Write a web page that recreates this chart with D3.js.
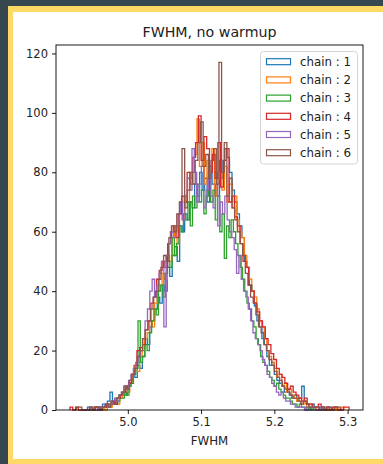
<!DOCTYPE html>
<html>
<head>
<meta charset="utf-8">
<script src="https://cdn.jsdelivr.net/npm/d3@7"></script>
<style>
  html, body { margin: 0; padding: 0; background: #37474f; }
  svg { display: block; }
  text { font-family: "DejaVu Sans", sans-serif; fill: #222; }
</style>
</head>
<body>
<svg id="chart" width="383" height="464"></svg>
<script>
// ---- data ----
const title = "FWHM, no warmup";
const xLabel = "FWHM";
const chainNames = ["chain : 1", "chain : 2", "chain : 3", "chain : 4", "chain : 5", "chain : 6"];
const chainColors = ["#1f77b4", "#ff7f0e", "#2ca02c", "#d62728", "#9467bd", "#8c564b"];
const xTicks = [5.0, 5.1, 5.2, 5.3];
const yTicks = [0, 20, 40, 60, 80, 100, 120];
// bin range (min, max FWHM) of each chain; 100 equal bins each
const chainLo = [4.945, 4.955, 4.955, 4.921, 4.950, 4.930];
const chainHi = [5.285, 5.295, 5.265, 5.302, 5.270, 5.290];

const counts1 = [1,0,0,1,1,0,2,1,3,6, 3,2,4,5,6,5,8,9,12,11, 15,14,18,24,22,28,30,34,38,36,
  42,40,48,45,52,55,50,62,60,66, 64,70,68,76,72,80,74,78,70,82, 76,80,72,84,78,88,85,80,74,70,
  66,62,58,50,48,42,40,35,30,28, 24,22,18,15,16,12,10,9,8,6, 7,5,4,5,3,4,8,3,2,1, 2,1,1,0,1,0,0,1,0,1];
const counts2 = [1,0,1,1,0,2,1,2,3,2, 4,5,7,6,9,12,14,13,18,20, 24,26,30,28,36,40,42,46,44,52,
  50,58,62,56,66,64,72,70,78,80, 86,98,82,90,76,84,80,88,72,78, 80,74,82,70,76,68,72,64,60,58,
  52,48,44,40,38,34,30,28,24,20, 18,16,14,11,12,8,9,6,7,5, 4,3,4,2,3,1,2,1,1,0, 1,1,0,1,0,0,1,0,0,1];
const counts3 = [1,1,0,1,1,2,1,2,3,2, 3,4,4,6,5,8,9,12,14,30, 16,18,22,20,26,30,34,32,40,42,
  38,46,50,48,58,52,56,62,60,66, 64,70,62,72,68,76,70,74,66,72, 78,70,74,64,72,60,66,51,62,58,
  64,60,56,52,48,44,40,36,34,30, 28,24,22,18,16,15,13,11,10,8, 9,7,6,5,4,4,3,2,2,1, 2,1,1,0,1,0,1,0,0,1];
const counts4 = [1,0,1,0,0,0,0,1,0,1, 0,1,1,2,2,3,2,4,5,6, 8,9,12,15,20,21,22,27,30,36,
  38,44,47,50,48,56,60,62,58,66, 72,70,80,76,85,90,99,84,92,88, 80,86,78,90,75,84,88,70,72,65,
  62,56,50,48,42,40,36,33,30,28, 24,22,19,17,14,12,11,9,7,8, 6,5,4,3,4,2,2,1,1,2, 1,0,1,0,1,1,0,0,1,1];
const counts5 = [1,0,0,1,1,1,2,1,2,3, 4,3,5,6,8,7,10,12,14,16, 18,20,24,30,34,40,44,38,42,46,
  50,28,52,56,60,58,62,66,70,64, 72,78,74,88,80,70,76,82,68,74, 80,72,68,76,62,70,66,72,64,60,
  58,54,46,52,44,40,38,34,30,26, 24,22,20,17,15,12,11,9,8,6, 5,6,4,3,3,2,2,1,1,1, 1,0,1,0,1,0,0,1,0,1];
const counts6 = [1,1,0,0,0,1,0,1,1,0, 1,2,1,3,2,4,5,6,8,7, 10,12,14,18,20,24,27,30,34,38,
  40,44,48,52,50,58,62,60,66,70, 88,68,74,80,76,84,90,97,82,86, 78,84,88,76,117,80,90,72,78,68,
  64,60,56,52,46,42,38,36,32,28, 26,22,20,17,15,13,11,10,8,7, 6,5,4,4,3,2,3,2,1,1, 1,1,0,1,0,1,0,0,1,1];
const chainCounts = [counts1, counts2, counts3, counts4, counts5, counts6];

// ---- layout ----
const svg = d3.select("#chart");
const W = 383, H = 464;
const plot = { left: 56, right: 363, top: 45, bottom: 410 };

// page frame
svg.append("rect").attr("x", 0).attr("y", 0).attr("width", W).attr("height", H).attr("fill", "#37474f");
svg.append("rect").attr("x", 8).attr("y", 6).attr("width", W).attr("height", H).attr("fill", "#ffd966");
svg.append("rect").attr("x", 13).attr("y", 12).attr("width", W).attr("height", 447).attr("fill", "#ffffff");

// scales
const xMin = d3.min(chainLo), xMax = d3.max(chainHi);
const xPad = (xMax - xMin) * 0.05;
const x = d3.scaleLinear().domain([xMin - xPad, xMax + xPad]).range([plot.left, plot.right]);
const yMax = d3.max(chainCounts, c => d3.max(c));
const y = d3.scaleLinear().domain([0, yMax * 1.05]).range([plot.bottom, plot.top]);

// histograms (step)
const line = d3.line().x(d => x(d[0])).y(d => y(d[1]));
const g = svg.append("g");
chainCounts.forEach((cnt, k) => {
  const lo = chainLo[k], hi = chainHi[k], n = cnt.length;
  const w = (hi - lo) / n;
  const pts = [[lo, 0]];
  cnt.forEach((c, i) => {
    pts.push([lo + i * w, c]);
    pts.push([i === n - 1 ? hi : lo + (i + 1) * w, c]);
  });
  pts.push([hi, 0]);
  g.append("path").attr("d", line(pts)).attr("fill", "none")
    .attr("stroke", chainColors[k]).attr("stroke-width", 1.3).attr("stroke-linejoin", "miter");
});

// axes
const xAxis = d3.axisBottom(x).tickValues(xTicks).tickFormat(d3.format(".1f")).tickSize(4).tickPadding(4);
const yAxis = d3.axisLeft(y).tickValues(yTicks).tickFormat(d3.format("d")).tickSize(4).tickPadding(4);
const gx = svg.append("g").attr("transform", `translate(0,${plot.bottom})`).call(xAxis);
const gy = svg.append("g").attr("transform", `translate(${plot.left},0)`).call(yAxis);
[gx, gy].forEach(a => {
  a.select(".domain").remove();
  a.selectAll(".tick line").attr("stroke", "#000").attr("stroke-width", 0.9);
  a.selectAll(".tick text").attr("font-size", "11.5px").attr("font-family", "DejaVu Sans").attr("fill", "#222");
});

// frame (spines)
svg.append("rect").attr("x", plot.left).attr("y", plot.top)
  .attr("width", plot.right - plot.left).attr("height", plot.bottom - plot.top)
  .attr("fill", "none").attr("stroke", "#000").attr("stroke-width", 0.9);

// title & label
svg.append("text").attr("x", (plot.left + plot.right) / 2).attr("y", 37)
  .attr("text-anchor", "middle").attr("font-size", "14.2px").text(title);
svg.append("text").attr("x", (plot.left + plot.right) / 2).attr("y", 445)
  .attr("text-anchor", "middle").attr("font-size", "11.8px").text(xLabel);

// legend
const lg = svg.append("g");
lg.append("rect").attr("x", 260.5).attr("y", 51.5).attr("width", 97).attr("height", 112.5)
  .attr("rx", 3).attr("fill", "#fff").attr("fill-opacity", 0.8)
  .attr("stroke", "#d0d0d0").attr("stroke-width", 0.9);
chainNames.forEach((name, k) => {
  const cy = 61.7 + k * 18.2;
  lg.append("rect").attr("x", 266.5).attr("y", cy - 3).attr("width", 24).attr("height", 6)
    .attr("fill", "none").attr("stroke", chainColors[k]).attr("stroke-width", 1.2);
  lg.append("text").attr("x", 300).attr("y", cy + 4.2).attr("font-size", "11.8px").text(name);
});
</script>
</body>
</html>
